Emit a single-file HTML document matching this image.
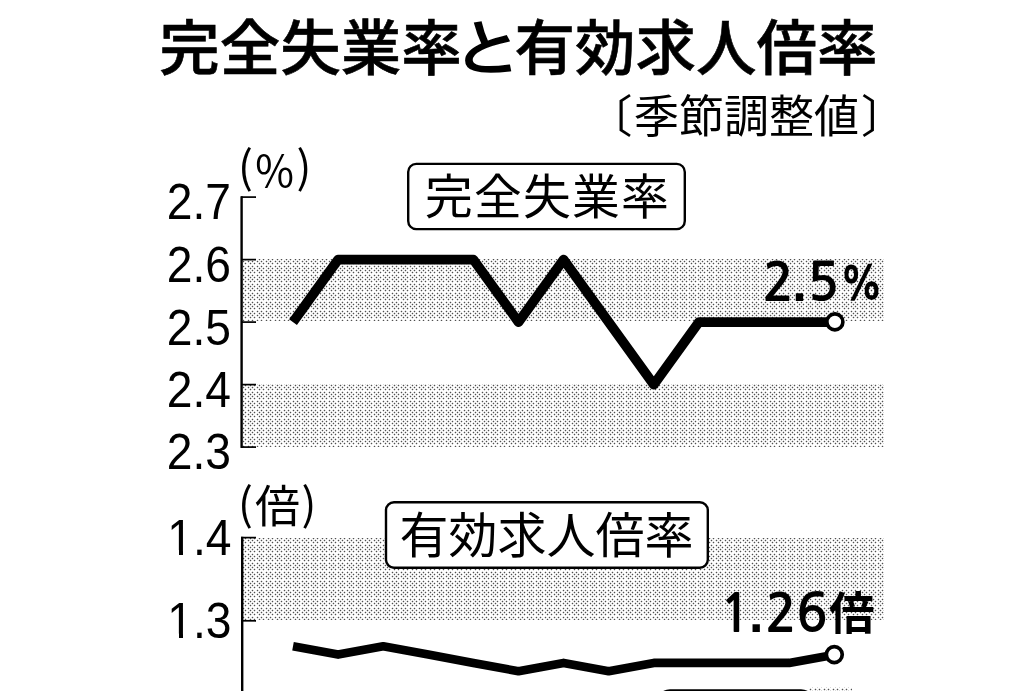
<!DOCTYPE html>
<html lang="ja">
<head>
<meta charset="utf-8">
<title>完全失業率と有効求人倍率</title>
<style>
html,body{margin:0;padding:0;background:#fff;}
body{width:1036px;height:691px;overflow:hidden;}
svg{display:block;filter:grayscale(1);}
.cjk{font-family:"Liberation Sans","Noto Sans CJK JP",sans-serif;}
.jp{font-family:"Noto Sans CJK JP",sans-serif;}
.num{font-family:"Liberation Sans",sans-serif;}
.nan{font-family:"NanumGothic","Liberation Sans",sans-serif;font-weight:700;}
</style>
</head>
<body>
<svg width="1036" height="691" viewBox="0 0 1036 691">
<defs>
<pattern id="dots" patternUnits="userSpaceOnUse" width="9" height="9">
<path fill="#505050" d="M0 0h1v1h-1zM5 0h1v1h-1zM2 2h1v1h-1zM7 2h1v1h-1zM0 5h1v1h-1zM5 5h1v1h-1zM2 7h1v1h-1zM7 7h1v1h-1z"/>
<path fill="#dadada" d="M1 0h1v1h-1zM8 0h1v1h-1zM0 1h1v1h-1zM0 8h1v1h-1zM6 0h1v1h-1zM4 0h1v1h-1zM5 1h1v1h-1zM5 8h1v1h-1zM3 2h1v1h-1zM1 2h1v1h-1zM2 3h1v1h-1zM2 1h1v1h-1zM8 2h1v1h-1zM6 2h1v1h-1zM7 3h1v1h-1zM7 1h1v1h-1zM1 5h1v1h-1zM8 5h1v1h-1zM0 6h1v1h-1zM0 4h1v1h-1zM6 5h1v1h-1zM4 5h1v1h-1zM5 6h1v1h-1zM5 4h1v1h-1zM3 7h1v1h-1zM1 7h1v1h-1zM2 8h1v1h-1zM2 6h1v1h-1zM8 7h1v1h-1zM6 7h1v1h-1zM7 8h1v1h-1zM7 6h1v1h-1z"/>
</pattern>
</defs>
<rect width="1036" height="691" fill="#fff"/>

<!-- Title -->
<text class="jp" x="159.3" y="69.7" font-size="60.5" font-weight="500" fill="#000" stroke="#000" stroke-width="0.6">完全失業率</text>
<text font-family="IPAGothic, 'Noto Sans CJK JP', sans-serif" font-weight="700" font-size="62.2" fill="#000" transform="translate(453.4,70.9) scale(1.118,1)">と</text>
<text class="jp" x="151.6" y="69.7" font-size="60.5" font-weight="500" fill="#000" stroke="#000" stroke-width="0.6" transform="translate(363,0)">有効求人倍率</text>
<!-- Subtitle -->
<text class="jp" x="587.5" y="133" font-size="45" fill="#000">〔</text>
<text class="jp" x="634" y="133" font-size="45" fill="#000">季節調整値</text>
<text class="jp" x="861" y="133" font-size="45" fill="#000">〕</text>

<!-- ===== Top chart ===== -->
<rect x="243" y="259" width="641" height="62" fill="url(#dots)"/>
<rect x="243" y="384" width="641" height="63" fill="url(#dots)"/>
<g stroke="#000" fill="none">
<line x1="241.6" y1="196.3" x2="241.6" y2="447.9" stroke-width="2.4"/>
<line x1="241" y1="197.1" x2="256" y2="197.1" stroke-width="1.7"/>
<line x1="241" y1="259.6" x2="256" y2="259.6" stroke-width="1.7"/>
<line x1="241" y1="322.1" x2="256" y2="322.1" stroke-width="1.7"/>
<line x1="241" y1="384.6" x2="256" y2="384.6" stroke-width="1.7"/>
<line x1="241" y1="447.1" x2="256" y2="447.1" stroke-width="1.7"/>
</g>
<g class="num" font-size="49.5" fill="#000" text-anchor="end">
<text transform="translate(231,219.3) scale(0.934,1)">2.7</text>
<text transform="translate(231,282.3) scale(0.934,1)">2.6</text>
<text transform="translate(231,344.7) scale(0.934,1)">2.5</text>
<text transform="translate(231,406.5) scale(0.934,1)">2.4</text>
<text transform="translate(231,468.9) scale(0.934,1)">2.3</text>
</g>
<!-- (%) -->
<text class="jp" x="238" y="183" font-size="44">(</text>
<text class="jp" font-size="44" transform="translate(255.2,186.6) scale(0.955,1)">%</text>
<text class="jp" x="296.5" y="183" font-size="44">)</text>

<!-- label box -->
<rect x="408.2" y="163.9" width="276.6" height="65.2" rx="8" ry="8" fill="#fff" stroke="#000" stroke-width="2.4"/>
<text class="jp" x="425" y="214.1" font-size="47.8" letter-spacing="1.2">完全失業率</text>

<!-- data line -->
<polyline fill="none" stroke="#000" stroke-width="9.7" stroke-linejoin="round" stroke-linecap="butt"
 points="293,322.1 338.1,259.6 383.2,259.6 428.3,259.6 473.4,259.6 518.5,322.1 563.6,259.6 608.7,322.1 653.8,384.6 698.9,322.1 744,322.1 789.1,322.1 834.6,322.1"/>
<circle cx="834.9" cy="321.9" r="8" fill="#fff" stroke="#000" stroke-width="3.6"/>
<g class="nan" font-size="52" fill="#000">
<text x="762.4" y="300.6">2</text>
<text x="792.2" y="300.8" font-family="Liberation Sans">.</text>
<text x="807.5" y="300">5</text>
<text font-size="45" transform="translate(840,300.2) scale(0.875,1)">%</text>
</g>

<!-- ===== Bottom chart ===== -->
<rect x="243" y="538" width="641" height="82" fill="url(#dots)"/>
<g stroke="#000" fill="none">
<line x1="242.2" y1="536.8" x2="242.2" y2="691" stroke-width="2.4"/>
<line x1="241" y1="537.6" x2="256" y2="537.6" stroke-width="1.7"/>
<line x1="241" y1="620.8" x2="256" y2="620.8" stroke-width="1.7"/>
</g>
<g class="num" font-size="49.5" fill="#000" text-anchor="end">
<text transform="translate(231.5,554.8) scale(0.934,1)">1.4</text>
<text transform="translate(231.5,638) scale(0.934,1)">1.3</text>
</g>
<g fill="#fff">
<rect x="168" y="550.1" width="11" height="5"/><rect x="183" y="550.1" width="10" height="5"/>
<rect x="168" y="633.6" width="11" height="5"/><rect x="183" y="633.6" width="10" height="5"/>
</g>
<!-- (倍) -->
<text class="jp" x="238" y="520" font-size="44">(</text>
<text class="jp" x="255" y="522.5" font-size="45">倍</text>
<text class="jp" x="301.5" y="520" font-size="44">)</text>

<rect x="386" y="502.3" width="321.8" height="65.5" rx="8" ry="8" fill="#fff" stroke="#000" stroke-width="2.4"/>
<text class="jp" x="399.6" y="552.5" font-size="49">有効求人倍率</text>

<polyline fill="none" stroke="#000" stroke-width="8.6" stroke-linejoin="round" stroke-linecap="butt"
 points="293,646.3 338.1,654.6 383.2,646.3 428.3,654.6 473.4,662.9 518.5,671.2 563.6,662.9 608.7,671.2 653.8,662.9 698.9,662.9 744,662.9 789.1,662.9 834.6,654.8"/>
<circle cx="834.3" cy="654.6" r="7.95" fill="#fff" stroke="#000" stroke-width="3.7"/>
<g class="nan" font-size="52" fill="#000">
<text x="719.5" y="631.9">1</text>
<text x="749" y="631.9" font-family="Liberation Sans">.</text>
<text x="765.3" y="631.9">2</text>
<text x="796.3" y="630.9">6</text>
</g>
<text class="jp" x="829" y="630.2" font-size="45.5" font-weight="700">倍</text>

<!-- partial next chart at bottom edge -->
<rect x="809" y="687" width="43" height="10" fill="url(#dots)"/>
<rect x="662" y="690.4" width="147" height="10" rx="8" ry="8" fill="#fff" stroke="#000" stroke-width="2.4"/>
</svg>
</body>
</html>
